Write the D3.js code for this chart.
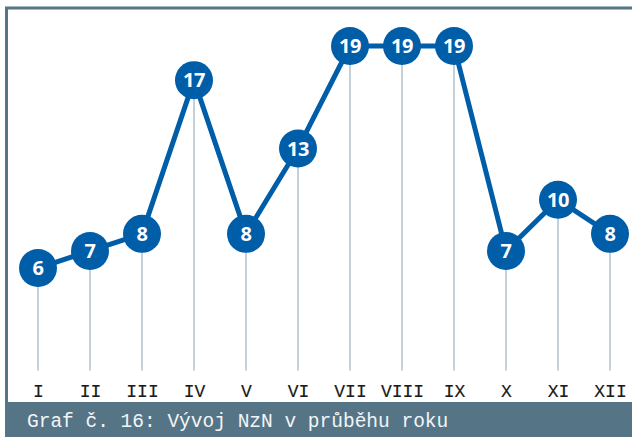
<!DOCTYPE html>
<html lang="cs">
  <head>
    <meta charset="utf-8">
    <title>Graf č. 16</title>
    <style>
      body { margin: 0; background: #fff; }
      svg { display: block; }
    </style>
  </head>
  <body>
    <div id="chart"></div>
  </body>
  <script src="https://cdnjs.cloudflare.com/ajax/libs/d3/7.8.5/d3.min.js"></script>
  <script type="text/javascript">

    const months = ['I', 'II', 'III', 'IV', 'V', 'VI', 'VII', 'VIII', 'IX', 'X', 'XI', 'XII']
    const values = [6, 7, 8, 17, 8, 13, 19, 19, 19, 7, 10, 8]
    const caption = 'Graf č. 16: Vývoj NzN v průběhu roku'

    const width = 632
    const height = 437
    const blue = '#005da8'
    const frame = '#557486'
    const mono = '"Liberation Mono", "DejaVu Sans Mono", monospace'

    const svg = d3.select('#chart')
      .append('svg')
      .attr('width', width)
      .attr('height', height)

    // frame: top + left edge, caption bar at the bottom
    svg.append('rect')
      .attr('x', 6.5).attr('y', 8)
      .attr('width', width).attr('height', height)
      .attr('fill', '#fff')
      .attr('stroke', frame)
      .attr('stroke-width', 3)

    svg.append('rect')
      .attr('x', 5).attr('y', 402)
      .attr('width', width).attr('height', height - 402)
      .attr('fill', frame)

    svg.append('text')
      .attr('x', 27).attr('y', 427)
      .attr('fill', '#f2f5f7')
      .style('font-family', mono)
      .style('font-size', '19.5px')
      .text(caption)

    const x = d3.scalePoint()
      .domain(months)
      .range([38, 610])

    const y = d3.scaleLinear()
      .domain([0, 19])
      .range([370.5, 46])

    const g = svg.append('g')

    // vertical drop lines
    g.selectAll('.drop')
      .data(values)
      .enter()
      .append('line')
      .attr('class', 'drop')
      .attr('x1', (d, i) => x(months[i]))
      .attr('x2', (d, i) => x(months[i]))
      .attr('y1', d => y(d))
      .attr('y2', y(0))
      .attr('stroke', '#b3c1cb')
      .attr('stroke-width', 1.5)

    const line = d3.line()
      .x((d, i) => x(months[i]))
      .y(d => y(d))

    g.append('path')
      .datum(values)
      .attr('d', line)
      .attr('fill', 'none')
      .attr('stroke', blue)
      .attr('stroke-width', 5)
      .attr('stroke-linejoin', 'round')

    g.selectAll('.dot')
      .data(values)
      .enter()
      .append('circle')
      .attr('class', 'dot')
      .attr('cx', (d, i) => x(months[i]))
      .attr('cy', d => y(d))
      .attr('r', 19)
      .attr('fill', blue)

    g.selectAll('.val')
      .data(values)
      .enter()
      .append('text')
      .attr('class', 'val')
      .attr('x', (d, i) => x(months[i]))
      .attr('y', d => y(d))
      .attr('dy', '0.36em')
      .attr('text-anchor', 'middle')
      .attr('fill', '#fff')
      .style('font-family', '"Open Sans", "DejaVu Sans", sans-serif')
      .style('font-weight', 'bold')
      .style('font-size', '20px')
      .style('letter-spacing', '-0.5px')
      .text(d => d)

    // month labels
    const axis = d3.axisBottom(x).tickSize(0).tickPadding(0)
    const ax = svg.append('g')
      .attr('transform', 'translate(0, 397)')
      .call(axis)
    ax.select('.domain').remove()
    ax.selectAll('text')
      .attr('dy', 0)
      .attr('fill', '#1a1a1a')
      .style('font-family', mono)
      .style('font-size', '18px')
      .style('stroke', '#1a1a1a')
      .style('stroke-width', 0.15)

  </script>
</html>
